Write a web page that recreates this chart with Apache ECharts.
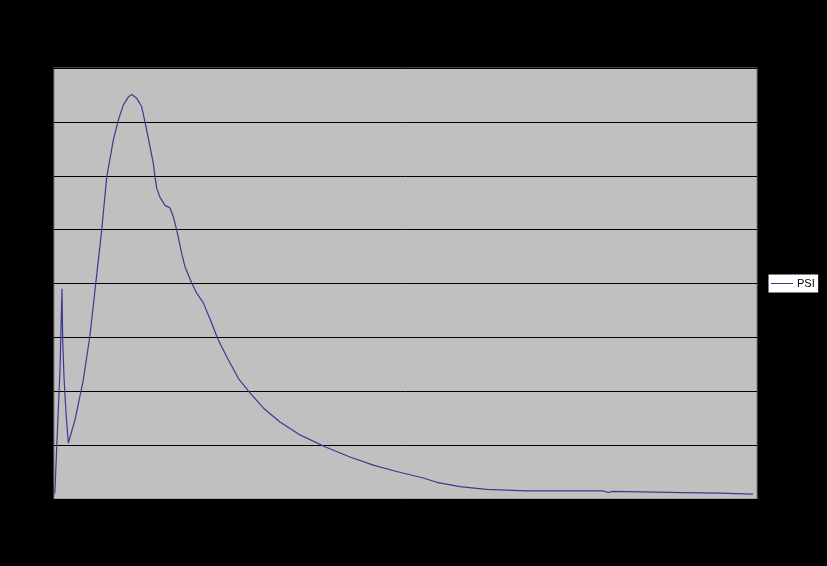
<!DOCTYPE html>
<html>
<head>
<meta charset="utf-8">
<script src="https://cdn.jsdelivr.net/npm/echarts@6/dist/echarts.min.js"></script>
<style>
html,body{margin:0;padding:0;background:#000;}
#chart{width:827px;height:566px;}
</style>
</head>
<body>
<div id="chart"></div>
<script>
// Time (arbitrary units) and PSI values
var times = [0.5, 1, 3.3, 6, 8, 8.7, 10, 12, 14.3, 21, 29.3, 36, 42.7, 47.7, 52.7, 59.3, 64.3, 69.3, 74.3, 77.7, 82.7, 87.7, 91, 96, 99.3, 101, 102.7, 106, 111, 116, 119.3, 122.7, 127.7, 131, 137.7, 142.7, 149.3, 156, 164.3, 172.7, 184.3, 196, 209.3, 226, 246, 271, 296, 319.3, 342.7, 369.3, 382.7, 406, 432.7, 472.7, 549, 554, 559, 629, 666, 699];
var psi = [0.1, 0.17, 1.22, 2.39, 3.9, 2.95, 2.26, 1.6, 1.04, 1.47, 2.21, 3.04, 4.16, 4.99, 5.97, 6.66, 7.03, 7.31, 7.46, 7.51, 7.44, 7.28, 7.0, 6.54, 6.23, 5.98, 5.77, 5.6, 5.45, 5.4, 5.24, 4.99, 4.56, 4.31, 4.01, 3.82, 3.64, 3.34, 2.95, 2.64, 2.24, 1.97, 1.69, 1.43, 1.19, 0.97, 0.78, 0.63, 0.51, 0.39, 0.31, 0.23, 0.18, 0.15, 0.15, 0.12, 0.14, 0.12, 0.11, 0.09];
var seriesName = 'PSI';

var data = times.map(function (t, i) { return [t, psi[i]]; });

var chart = echarts.init(document.getElementById('chart'));
chart.setOption({
  backgroundColor: '#000',
  animation: false,
  grid: {
    left: 54, top: 68, right: 70, bottom: 67,
    show: true, backgroundColor: '#c0c0c0', borderColor: '#808080', borderWidth: 1
  },
  legend: {
    data: [{ name: seriesName, icon: 'rect' }],
    left: 768, top: 274,
    orient: 'vertical',
    backgroundColor: '#fff',
    borderColor: '#000', borderWidth: 1,
    padding: [4, 4, 4, 3],
    itemWidth: 22, itemHeight: 1, itemGap: 4,
    textStyle: { color: '#000', fontSize: 11, fontFamily: 'Liberation Sans, Arial, sans-serif', padding: [0, 0, 0, -1] }
  },
  xAxis: {
    type: 'value', min: 0, max: 703,
    axisLine: { show: false }, axisTick: { show: false }, axisLabel: { show: false },
    splitLine: { show: false }
  },
  yAxis: {
    type: 'value', min: 0, max: 8, interval: 1,
    axisLine: { show: false }, axisTick: { show: false }, axisLabel: { show: false },
    splitLine: { show: true, lineStyle: { color: '#000', width: 1 } }
  },
  series: [{
    name: seriesName,
    type: 'line',
    data: data,
    symbol: 'none',
    smooth: false,
    lineStyle: { color: '#3a3a90', width: 1.2 },
    itemStyle: { color: '#3a3a90' }
  }]
});
</script>
</body>
</html>
